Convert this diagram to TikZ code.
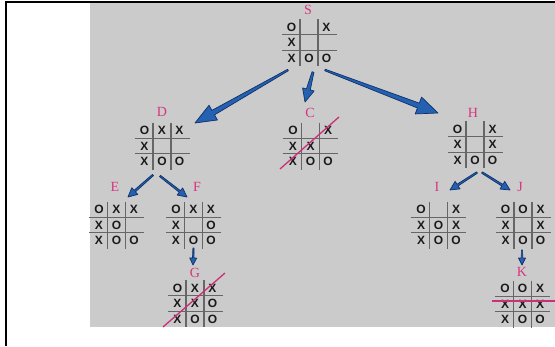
\documentclass[tikz,border=0pt]{standalone}
\usepackage{fontspec}
\setmainfont{Liberation Serif}
\newfontfamily\boardfont{Liberation Sans}
\usetikzlibrary{calc,arrows.meta}
\definecolor{bggray}{HTML}{CBCBCB}
\definecolor{gridgray}{HTML}{666666}
\definecolor{labpink}{HTML}{D8357F}
\definecolor{crosspink}{HTML}{CC2F78}
\definecolor{arrowblue}{HTML}{2461B0}
\definecolor{arrownavy}{HTML}{11306A}
\definecolor{marktext}{HTML}{1A1A1A}
\tikzset{
  gridline/.style={draw=gridgray, line width=1.1pt},
  cellmark/.style={inner sep=0pt, text=marktext, font=\boardfont\bfseries\fontsize{12}{12}\selectfont},
  lab/.style={inner sep=0pt, text=labpink, font=\fontsize{14}{14}\selectfont},
  fatarrow/.style={fill=arrowblue, draw=arrownavy, line width=0.7pt, line join=round},
  crossline/.style={draw=crosspink, line width=1.3pt},
  frameline/.style={draw=black, line width=2pt}
}
\newcommand{\tttboard}[3]{%
  \coordinate (#1) at (#2);
  \draw[gridline] ($(#1)+(-9,-23.5)$) -- ($(#1)+(-9,23.5)$);
  \draw[gridline] ($(#1)+(9,-23.5)$) -- ($(#1)+(9,23.5)$);
  \draw[gridline] ($(#1)+(-27.5,-7.75)$) -- ($(#1)+(27.5,-7.75)$);
  \draw[gridline] ($(#1)+(-27.5,7.75)$) -- ($(#1)+(27.5,7.75)$);
  \foreach \v [count=\i from 0] in {#3} {
    \pgfmathtruncatemacro\cc{mod(\i,3)-1}
    \pgfmathtruncatemacro\rr{int(\i/3)-1}
    \node[cellmark] (#1-\i) at ($(#1)+(17.5*\cc,15.5*\rr)$) {\v};
  }
}
% #1 start, #2 end, #3 start half-width, #4 shaft end half-width, #5 head length, #6 head half-width
\newcommand{\fatarrow}[6]{%
  \coordinate (fa-base) at ($(#2)!#5!(#1)$);
  \filldraw[fatarrow] ($(#1)!#3!90:(#2)$) -- ($(fa-base)!#4!90:(#2)$) -- ($(fa-base)!#6!90:(#2)$) -- (#2)
    -- ($(fa-base)!#6!-90:(#2)$) -- ($(fa-base)!#4!-90:(#2)$) -- ($(#1)!#3!-90:(#2)$) -- cycle;
}
\begin{document}
\begin{tikzpicture}[x=1pt,y=-1pt]
\useasboundingbox (0,0) rectangle (555,346);
\fill[bggray] (90,3) rectangle (555,327);
\draw[frameline] (6,346) -- (6,2) -- (555,2);

% boards
\tttboard{S}{309,42.5}{O,{},X,X,{},{},X,O,O}
\tttboard{D}{162,146}{O,X,X,X,{},{},X,O,O}
\tttboard{C}{310.5,146}{O,{},X,X,X,{},X,O,O}
\tttboard{H}{475,144.5}{O,{},X,X,{},X,X,O,O}
\tttboard{E}{116.5,225}{O,X,X,X,O,{},X,O,O}
\tttboard{F}{193.5,225}{O,X,X,X,{},O,X,O,O}
\tttboard{I}{438.5,225}{O,{},X,X,O,X,X,O,O}
\tttboard{J}{523,225}{O,O,X,X,{},X,X,O,O}
\tttboard{G}{195,303.5}{O,X,X,X,X,O,X,O,O}
\tttboard{K}{522.5,304}{O,O,X,X,X,X,X,O,O}

% labels
\node[lab] (S-lab) at (308,10) {S};
\node[lab] (D-lab) at (162,112) {D};
\node[lab] (C-lab) at (310,113) {C};
\node[lab] (H-lab) at (473,113) {H};
\node[lab] (E-lab) at (115,187) {E};
\node[lab] (F-lab) at (197,187) {F};
\node[lab] (I-lab) at (437,187) {I};
\node[lab] (J-lab) at (520,187) {J};
\node[lab] (G-lab) at (195,273) {G};
\node[lab] (K-lab) at (522,272) {K};

% arrow end points
\coordinate (SD-a) at ($(S)+(-21,27.5)$);  \coordinate (SD-b) at ($(D)+(33,-23)$);
\coordinate (SC-a) at ($(S)+(4,29.5)$);    \coordinate (SC-b) at ($(C)+(-5.5,-44)$);
\coordinate (SH-a) at ($(S)+(16,27.5)$);   \coordinate (SH-b) at ($(H)+(-37,-31.5)$);
\coordinate (DE-a) at ($(D)+(-9,29)$);     \coordinate (DE-b) at ($(E)+(11.5,-28)$);
\coordinate (DF-a) at ($(D)+(-2,30)$);     \coordinate (DF-b) at ($(F)+(-6.5,-28)$);
\coordinate (HI-a) at ($(H)+(2,28)$);      \coordinate (HI-b) at ($(I)+(11.5,-35)$);
\coordinate (HJ-a) at ($(H)+(7,28)$);      \coordinate (HJ-b) at ($(J)+(-13,-35)$);
\coordinate (FG-a) at ($(F)+(0,23)$);      \coordinate (FG-b) at ($(G)+(-2,-38.5)$);
\coordinate (JK-a) at ($(J)+(-1,25)$);     \coordinate (JK-b) at ($(K)+(-0.5,-39)$);

\fatarrow{SD-a}{SD-b}{0.8pt}{2.6pt}{21pt}{8.5pt}
\fatarrow{SC-a}{SC-b}{1pt}{2pt}{13pt}{6pt}
\fatarrow{SH-a}{SH-b}{0.8pt}{2.6pt}{21pt}{9pt}
\fatarrow{DE-a}{DE-b}{0.8pt}{1pt}{9pt}{4.5pt}
\fatarrow{DF-a}{DF-b}{0.8pt}{1pt}{9pt}{4.5pt}
\fatarrow{HI-a}{HI-b}{0.8pt}{1pt}{9pt}{4.5pt}
\fatarrow{HJ-a}{HJ-b}{0.8pt}{1pt}{9pt}{4.5pt}
\fatarrow{FG-a}{FG-b}{0.6pt}{0.7pt}{7pt}{3.5pt}
\fatarrow{JK-a}{JK-b}{0.6pt}{0.7pt}{7pt}{3.5pt}

% winning lines
\draw[crossline] ($(C)+(-30.5,23)$) -- ($(C)+(28.5,-29)$);
\draw[crossline] ($(G)+(-32,23.5)$) -- ($(G)+(30,-30.5)$);
\draw[crossline] ($(K)+(-30.5,-3)$) -- ($(K)+(32.5,-3)$);
\end{tikzpicture}
\end{document}
